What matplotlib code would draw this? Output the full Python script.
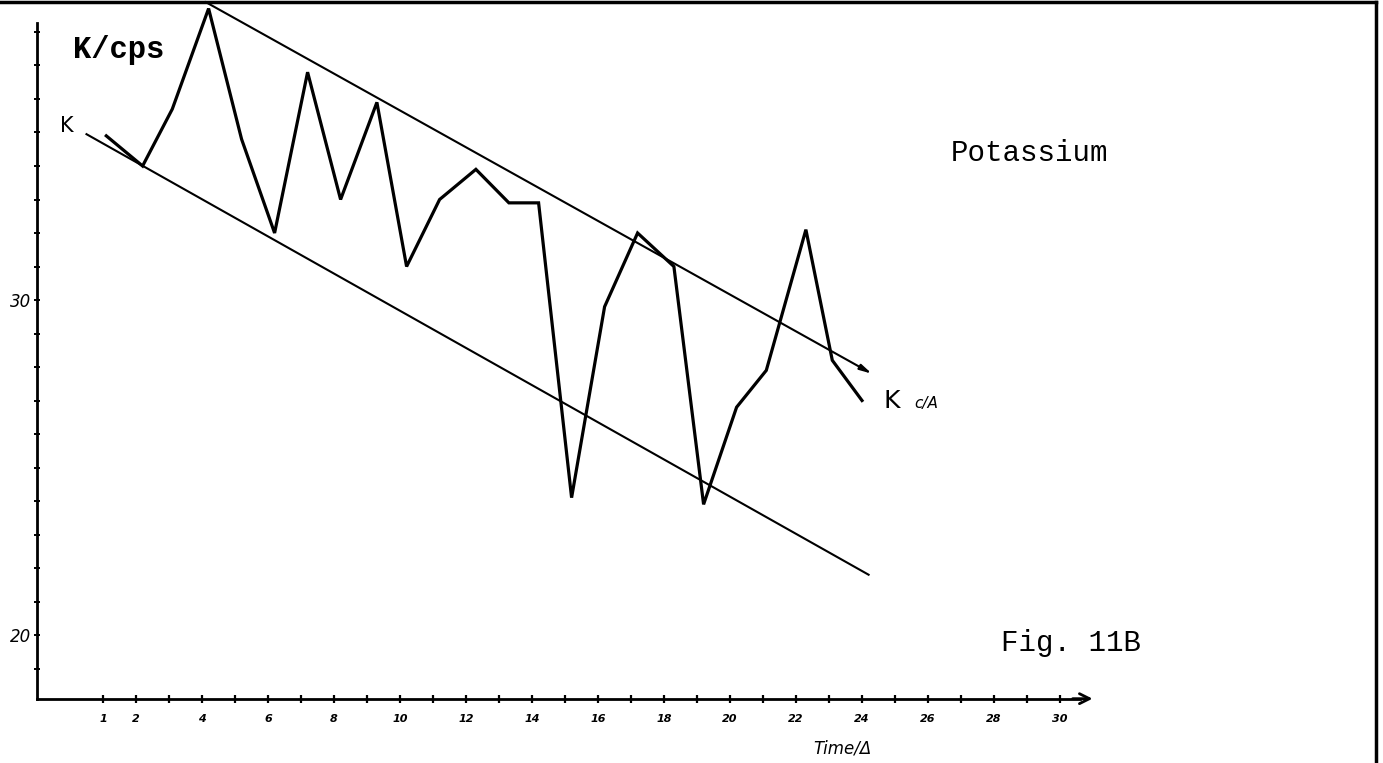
import matplotlib
matplotlib.use("Agg")
import matplotlib.pyplot as plt
from matplotlib.lines import Line2D

# potassium count rate against time
time = [1.1, 2.2, 3.1, 4.2, 5.2, 6.2, 7.2, 8.2, 9.3, 10.2, 11.2, 12.3,
        13.3, 14.2, 15.2, 16.2, 17.2, 18.3, 19.2, 20.2, 21.1, 22.3, 23.1, 24.0]
k_cps = [34.9, 34.0, 35.7, 38.7, 34.8, 32.0, 36.8, 33.0, 35.9, 31.0, 33.0, 33.9,
         32.9, 32.9, 24.1, 29.8, 32.0, 31.0, 23.9, 26.8, 27.9, 32.1, 28.2, 27.0]

# envelope lines drawn by hand over the trace
upper_x = [4.1, 24.3]
upper_y = [38.9, 27.8]
lower_x = [0.5, 24.2]
lower_y = [34.95, 21.8]

xticks = list(range(1, 31))
xlabels = {1: "1", 2: "2", 4: "4", 6: "6", 8: "8", 10: "10", 12: "12", 14: "14",
           16: "16", 18: "18", 20: "20", 22: "22", 24: "24", 26: "26", 28: "28", 30: "30"}
yticks = list(range(19, 39))
ylabels = {20: "20", 30: "30"}

fig = plt.figure(figsize=(13.83, 7.63), dpi=100)
ax = fig.add_axes([0, 0, 1, 1])
ax.set_xlim(-2.121, 39.788)
ax.set_ylim(16.18, 38.955)

for s in ["top", "right"]:
    ax.spines[s].set_visible(False)
ax.spines["left"].set_position(("data", -1))
ax.spines["left"].set_bounds(18.1, 38.27)
ax.spines["bottom"].set_position(("data", 18.1))
ax.spines["bottom"].set_bounds(-1, 30.6)
for s in ["left", "bottom"]:
    ax.spines[s].set_linewidth(2.0)

# x axis arrow head
ax.annotate("", xy=(31.07, 18.1), xytext=(30.3, 18.1),
            arrowprops=dict(arrowstyle="->", lw=2.0, color="black",
                            mutation_scale=18))

ax.set_xticks(xticks)
ax.set_xticklabels([xlabels.get(t, "") for t in xticks])
ax.set_yticks(yticks)
ax.set_yticklabels([ylabels.get(t, "") for t in yticks])
ax.tick_params(axis="x", direction="inout", length=6, width=1.6, pad=8,
               labelsize=8)
ax.tick_params(axis="y", direction="inout", length=5, width=1.4, pad=2,
               labelsize=12)
for lab in ax.get_xticklabels():
    lab.set_fontweight("bold")
    lab.set_fontstyle("italic")
for lab in ax.get_yticklabels():
    lab.set_fontstyle("italic")

ax.plot(time, k_cps, color="black", lw=2.3, solid_joinstyle="miter")
ax.plot(lower_x, lower_y, color="black", lw=1.5)
ax.annotate("", xy=(upper_x[1], upper_y[1]), xytext=(upper_x[0], upper_y[0]),
            arrowprops=dict(arrowstyle="-|>,head_length=0.5,head_width=0.12",
                            lw=1.5, color="black", shrinkA=0, shrinkB=0,
                            mutation_scale=14))

ax.text(0.1, 37.45, "K/cps", fontsize=22, family="Liberation Mono",
        fontweight="bold", ha="left", va="center")
ax.text(-0.1, 35.2, "K", fontsize=15, ha="center", va="center")
ax.text(26.7, 34.4, "Potassium", fontsize=21, family="Liberation Mono",
        ha="left", va="center")
ax.text(28.2, 19.75, "Fig. 11B", fontsize=21, family="Liberation Mono",
        ha="left", va="center")
ax.text(24.9, 27.0, "K", fontsize=18, ha="center", va="center")
ax.text(25.6, 26.9, "c/A", fontsize=11, ha="left", va="center",
        fontstyle="italic")
ax.text(23.4, 16.6, "Time/Δ", fontsize=12, ha="center", va="center",
        fontstyle="italic")

# page border from the scanned sheet
fig.add_artist(Line2D([0.0, 0.995], [0.997, 0.997], color="black", lw=2.5))
fig.add_artist(Line2D([0.995, 0.995], [0.0, 0.997], color="black", lw=2.5))

fig.savefig("out.png", dpi=100)
